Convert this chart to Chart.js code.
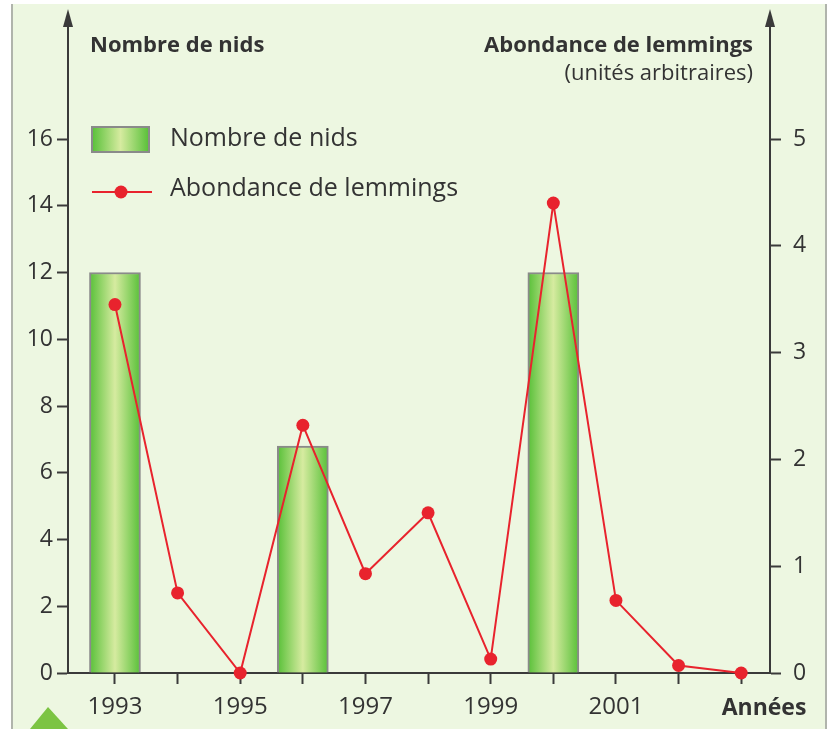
<!DOCTYPE html>
<html><head><meta charset="utf-8">
<script src="https://cdn.jsdelivr.net/npm/chart.js@4/dist/chart.umd.min.js"></script>
<style>html,body{margin:0;padding:0;background:#fff;}canvas{display:block;}</style>
</head><body>
<canvas id="c" width="836" height="729"></canvas>
<script>
const years = [1993,1994,1995,1996,1997,1998,1999,2000,2001,2002,2003];
const nests = [12,null,null,6.8,null,null,null,12,null,null,null];
const lemmings = [3.45,0.75,0,2.32,0.93,1.5,0.13,4.4,0.68,0.07,0];
const xTickLabels = ['1993','','1995','','1997','','1999','','2001','',''];
const leftTitle = 'Nombre de nids';
const rightTitle = 'Abondance de lemmings';
const rightSub = '(unités arbitraires)';
const xTitle = 'Années';
const seriesNames = ['Nombre de nids','Abondance de lemmings'];

const FONT = '"Open Sans", "DejaVu Sans", sans-serif';
const AXIS = '#3a3a3a';
const TXT = '#333333';
const RED = '#e8232d';

function barGradient(ctx, x0, x1){
  const g = ctx.createLinearGradient(x0,0,x1,0);
  g.addColorStop(0,'#58c038');
  g.addColorStop(0.5,'#d6eba0');
  g.addColorStop(1,'#58c038');
  return g;
}

const decor = {
  id:'decor',
  beforeDraw(chart){
    const c = chart.ctx;
    c.save();
    c.fillStyle='#ffffff'; c.fillRect(0,0,836,729);
    c.fillStyle='#edf7e1'; c.fillRect(13,4,813,725);
    c.fillStyle='#b0b4ac'; c.fillRect(11,4,2,725); c.fillRect(825,4,2,725);
    c.fillStyle='#7cc443';
    c.beginPath(); c.moveTo(48,707); c.lineTo(68,729); c.lineTo(30,729); c.closePath(); c.fill();
    c.restore();
  },
  afterDraw(chart){
    const c = chart.ctx, a = chart.chartArea;
    c.save();
    c.strokeStyle=AXIS; c.fillStyle=AXIS; c.lineWidth=2;
    [a.left, a.right].forEach(x=>{
      c.beginPath(); c.moveTo(x,a.top); c.lineTo(x,22); c.stroke();
      c.beginPath(); c.moveTo(x,9); c.lineTo(x-5,27); c.lineTo(x+5,27); c.closePath(); c.fill();
    });
    // titles
    c.fillStyle=TXT;
    c.font='bold 22px '+FONT; c.textBaseline='alphabetic';
    c.textAlign='left'; c.fillText(leftTitle,90,52);
    c.textAlign='right'; c.fillText(rightTitle,753,52);
    c.font='22px '+FONT; c.fillText(rightSub,753,80);
    c.font='bold 23px '+FONT; c.textAlign='center';
    c.fillText(xTitle,764,715);
    // legend
    const bx=92, by=127;
    c.fillStyle=barGradient(c,bx,bx+57); c.fillRect(bx,by,57,25);
    c.strokeStyle='#8a8a8a'; c.lineWidth=2; c.strokeRect(bx,by,57,25);
    c.strokeStyle=RED; c.lineWidth=2;
    c.beginPath(); c.moveTo(92,192); c.lineTo(152,192); c.stroke();
    c.fillStyle=RED; c.beginPath(); c.arc(121,192,6.5,0,Math.PI*2); c.fill();
    c.fillStyle=TXT; c.font='25px '+FONT; c.textAlign='left'; c.textBaseline='middle';
    c.fillText(seriesNames[0],170,139);
    c.fillText(seriesNames[1],170,189);
    c.restore();
  }
};

new Chart(document.getElementById('c'), {
  data:{
    datasets:[
      {type:'bar', label:seriesNames[0], order:2, yAxisID:'y',
       data: years.map((y,i)=>({x:y,y:nests[i]})).filter(d=>d.y!==null),
       barThickness:51,
       backgroundColor:(ctx)=>{
         const ch=ctx.chart; if(!ch.chartArea||!ctx.raw) return '#8fd46a';
         const px=ch.scales.x.getPixelForValue(ctx.raw.x);
         return barGradient(ch.ctx,px-25.5,px+25.5);
       },
       borderColor:'#8a8a8a', borderWidth:{top:2,left:2,right:2,bottom:0}, borderSkipped:'bottom'},
      {type:'line', label:seriesNames[1], order:1, yAxisID:'y1', clip:false,
       data: years.map((y,i)=>({x:y,y:lemmings[i]})),
       borderColor:RED, borderWidth:2, backgroundColor:RED,
       pointRadius:6.5, pointBackgroundColor:RED, pointBorderWidth:0, tension:0}
    ]
  },
  options:{
    responsive:false, animation:false, devicePixelRatio:1,
    layout:{padding:{top:139,left:0,right:0,bottom:0}},
    plugins:{legend:{display:false}, tooltip:{enabled:false}},
    scales:{
      x:{type:'linear', min:1992.25, max:2003.46, offset:false, z:-1,
         afterBuildTicks:(s)=>{ s.ticks = years.map(v=>({value:v})); },
         afterFit:(s)=>{ s.height=56; },
         grid:{offset:false, drawOnChartArea:false, drawTicks:true, tickLength:11, tickColor:AXIS, tickWidth:2},
         border:{display:true, color:AXIS, width:2},
         ticks:{autoSkip:false, maxRotation:0, padding:9, color:TXT, font:{family:FONT,size:24},
           callback:(v)=>{ const i=years.indexOf(v); return i>=0?xTickLabels[i]:''; }}},
      y:{position:'left', min:0, max:16,
         afterFit:(s)=>{ s.width=68; },
         grid:{drawOnChartArea:false, drawTicks:true, tickLength:11, tickColor:AXIS, tickWidth:2},
         border:{display:true, color:AXIS, width:2},
         ticks:{stepSize:2, padding:4, color:TXT, font:{family:FONT,size:23}}},
      y1:{position:'right', min:0, max:5,
         afterFit:(s)=>{ s.width=66; },
         grid:{drawOnChartArea:false, drawTicks:true, tickLength:11, tickColor:AXIS, tickWidth:2},
         border:{display:true, color:AXIS, width:2},
         ticks:{stepSize:1, padding:12, color:TXT, font:{family:FONT,size:23}}}
    }
  },
  plugins:[decor]
});
</script>
</body></html>
